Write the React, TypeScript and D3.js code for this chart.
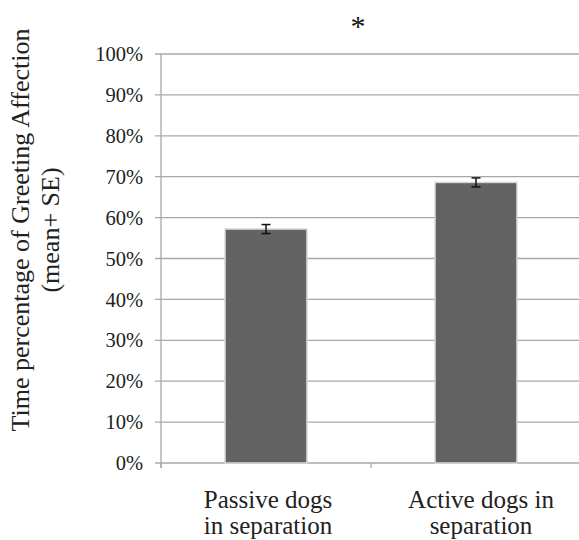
import * as d3 from "d3";

const categories = ["Passive dogs in separation", "Active dogs in separation"];
const categoryLines = [
  ["Passive dogs", "in separation"],
  ["Active dogs in", "separation"],
];
const means = [0.572, 0.686];
const errors = [0.011, 0.011];
const yTicks = [0, 0.1, 0.2, 0.3, 0.4, 0.5, 0.6, 0.7, 0.8, 0.9, 1.0];
const titleLines = ["Time percentage of Greeting Affection", "(mean+ SE)"];

const W = 579;
const H = 540;
const PLOT = { left: 161, right: 581, top: 54, bottom: 463 };
const FONT = "Liberation Serif, Times New Roman, DejaVu Serif, serif";
const GRID = "#a8a8a8";
const TEXT = "#222";

export default function App() {
  const x = d3
    .scaleBand<string>()
    .domain(categories)
    .range([PLOT.left, PLOT.right])
    .paddingInner(0.61)
    .paddingOuter(0.305);
  const y = d3.scaleLinear().domain([0, 1]).range([PLOT.bottom, PLOT.top]);
  const step = x.step();
  const fmt = d3.format(".0%");

  return (
    <svg
      width={W}
      height={H}
      style={{ position: "absolute", left: 0, top: 0, background: "#fff", fontFamily: FONT }}
    >
      {/* gridlines and y ticks */}
      {yTicks.map((t) => (
        <g key={t}>
          <line x1={PLOT.left - 6} x2={PLOT.right} y1={y(t)} y2={y(t)} stroke={GRID} strokeWidth={1.3} />
          <text x={143} y={y(t)} dy="0.35em" textAnchor="end" fontSize={20.5} fill={TEXT}>
            {fmt(t)}
          </text>
        </g>
      ))}
      {/* y axis line */}
      <line x1={PLOT.left} x2={PLOT.left} y1={PLOT.top} y2={PLOT.bottom + 5} stroke={GRID} strokeWidth={1.3} />
      {/* category boundary ticks */}
      {d3.range(categories.length + 1).map((i) => {
        const bx = PLOT.left + i * step;
        return <line key={i} x1={bx} x2={bx} y1={PLOT.bottom} y2={PLOT.bottom + 5} stroke={GRID} strokeWidth={1.3} />;
      })}
      {/* bars */}
      {categories.map((c, i) => (
        <rect
          key={c}
          x={x(c)}
          y={y(means[i])}
          width={x.bandwidth()}
          height={y(0) - y(means[i])}
          fill="#636363"
          stroke="#d6d6d6"
          strokeWidth={1.5}
        />
      ))}
      {/* error bars */}
      {categories.map((c, i) => {
        const cx = (x(c) ?? 0) + x.bandwidth() / 2;
        const lo = y(means[i] - errors[i]);
        const hi = y(means[i] + errors[i]);
        return (
          <g key={c} stroke="#111" strokeWidth={1.5}>
            <line x1={cx} x2={cx} y1={lo} y2={hi} />
            <line x1={cx - 4.5} x2={cx + 4.5} y1={lo} y2={lo} />
            <line x1={cx - 4.5} x2={cx + 4.5} y1={hi} y2={hi} />
          </g>
        );
      })}
      {/* category labels */}
      {categories.map((c, i) => {
        const cx = (x(c) ?? 0) + x.bandwidth() / 2 + 2 + i * 3;
        return (
          <text key={c} x={cx} textAnchor="middle" fontSize={25} fill={TEXT}>
            {categoryLines[i].map((ln, j) => (
              <tspan key={j} x={cx} y={508 + j * 26}>
                {ln}
              </tspan>
            ))}
          </text>
        );
      })}
      {/* y title */}
      <text transform="translate(0,230) rotate(-90)" textAnchor="middle" fontSize={26} fill={TEXT}>
        {titleLines.map((ln, j) => (
          <tspan key={j} x={0} y={29 + j * 30}>
            {ln}
          </tspan>
        ))}
      </text>
      {/* significance marker */}
      <text x={358} y={36} textAnchor="middle" fontSize={30} fill="#111">
        *
      </text>
    </svg>
  );
}
